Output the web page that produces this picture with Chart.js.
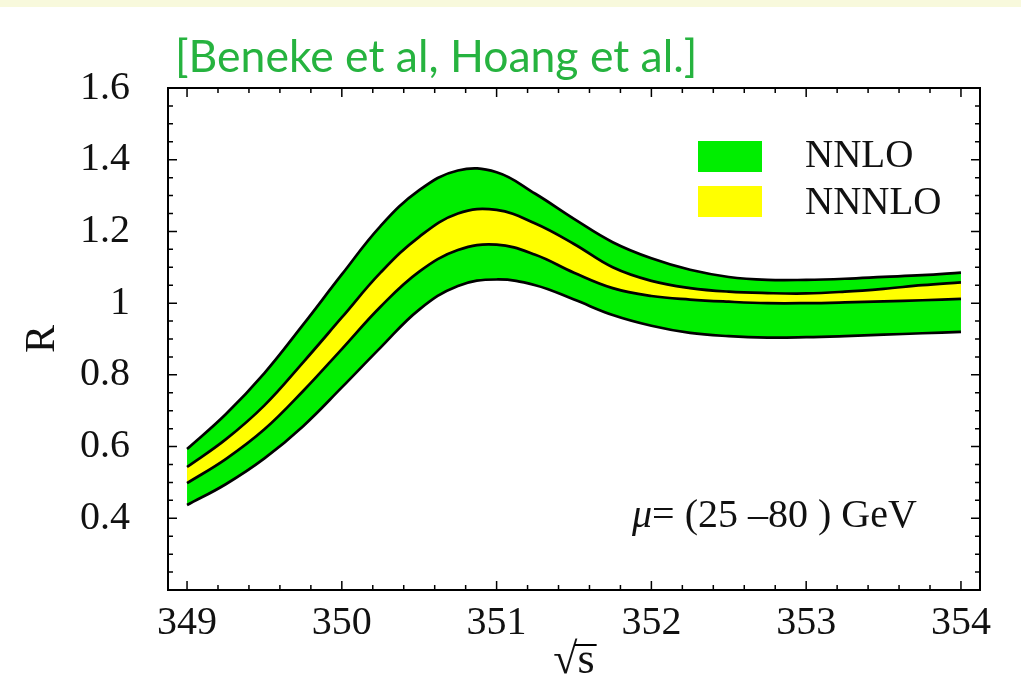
<!DOCTYPE html>
<html>
<head>
<meta charset="utf-8">
<script src="https://cdn.jsdelivr.net/npm/chart.js@4.4.0/dist/chart.umd.min.js"></script>
<style>
  html, body { margin: 0; padding: 0; background: #fff; }
  canvas { display: block; }
</style>
</head>
<body>
<canvas id="chart" width="1021" height="675"></canvas>
<script>
// sqrt(s) in GeV
const energies = [349, 349.25, 349.5, 349.75, 350, 350.25, 350.5, 350.75, 351, 351.25, 351.5,
  351.75, 352, 352.25, 352.5, 352.75, 353, 353.25, 353.5, 353.75, 354];

// band edges for R
const nnloUpper = [0.593, 0.69, 0.805, 0.94, 1.08, 1.215, 1.315, 1.37, 1.365, 1.305, 1.235,
  1.17, 1.125, 1.093, 1.073, 1.065, 1.065, 1.068, 1.073, 1.078, 1.085];
const nnnloUpper = [0.543, 0.62, 0.715, 0.835, 0.96, 1.085, 1.185, 1.25, 1.26, 1.222, 1.165,
  1.10, 1.062, 1.042, 1.032, 1.028, 1.027, 1.032, 1.04, 1.05, 1.058];
const nnnloLower = [0.498, 0.565, 0.648, 0.755, 0.872, 0.99, 1.088, 1.148, 1.163, 1.135, 1.085,
  1.042, 1.02, 1.01, 1.004, 1.0, 1.0, 1.002, 1.005, 1.008, 1.012];
const nnloLower = [0.437, 0.495, 0.567, 0.657, 0.765, 0.876, 0.982, 1.048, 1.066, 1.05, 1.01,
  0.967, 0.937, 0.917, 0.908, 0.904, 0.905, 0.908, 0.912, 0.916, 0.92];

const bandLabels = ["NNLO", "NNNLO"];
const bandColors = ["#00ee00", "#ffff00"];
const titleText = "[Beneke et al, Hoang et al.]";
const noteText = "= (25 \u201380 ) GeV";

const serif = '"Liberation Serif", "Times New Roman", serif';

const pts = (arr) => energies.map((x, i) => ({ x: x, y: arr[i] }));

const lineStyle = {
  borderColor: "#000",
  borderWidth: 2.7,
  pointRadius: 0,
  tension: 0.4,
};

// white page with the slide's cream strip on top
const backdrop = {
  id: "backdrop",
  beforeDraw(chart) {
    const ctx = chart.ctx;
    ctx.save();
    ctx.fillStyle = "#fff";
    ctx.fillRect(0, 0, chart.width, chart.height);
    ctx.fillStyle = "#f8f9dc";
    ctx.fillRect(0, 0, chart.width, 7);
    ctx.restore();
  },
};

// mathematica style frame with inward ticks on all sides
const frame = {
  id: "frame",
  afterDraw(chart) {
    const { ctx, chartArea: a, scales } = chart;
    const x = scales.x, y = scales.y;
    ctx.save();
    ctx.strokeStyle = "#000";
    ctx.lineWidth = 1.5;
    ctx.beginPath();
    for (let v = 349; v <= 354.001; v += 0.2) {
      const px = x.getPixelForValue(v);
      const len = Math.abs(v - Math.round(v)) < 0.01 ? 9 : 5;
      ctx.moveTo(px, a.bottom); ctx.lineTo(px, a.bottom - len);
      ctx.moveTo(px, a.top); ctx.lineTo(px, a.top + len);
    }
    for (let v = 0.25; v <= 1.6001; v += 0.05) {
      const py = y.getPixelForValue(v);
      const major = Math.abs(v * 5 - Math.round(v * 5)) < 0.01;
      const len = major ? 9 : 5;
      ctx.moveTo(a.left, py); ctx.lineTo(a.left + len, py);
      ctx.moveTo(a.right, py); ctx.lineTo(a.right - len, py);
    }
    ctx.stroke();
    ctx.lineWidth = 2;
    ctx.strokeRect(a.left, a.top, a.right - a.left, a.bottom - a.top);

    // bar over the s of the x title
    ctx.font = "44px " + serif;
    const full = ctx.measureText("\u221as").width;
    const sw = ctx.measureText("s").width;
    const cx = (a.left + a.right) / 2;
    const right = cx + full / 2;
    ctx.lineWidth = 2;
    ctx.beginPath();
    ctx.moveTo(right - sw - 3, 645);
    ctx.lineTo(right + 2, 645);
    ctx.stroke();
    ctx.restore();
  },
};

// legend, citation and scale note
const labels = {
  id: "labels",
  afterDraw(chart) {
    const ctx = chart.ctx;
    ctx.save();
    bandLabels.forEach((txt, i) => {
      ctx.fillStyle = bandColors[i];
      ctx.fillRect(698, 141 + i * 45, 64, 31);
      ctx.fillStyle = "#111";
      ctx.font = "39px " + serif;
      ctx.textBaseline = "alphabetic";
      ctx.fillText(txt, 805, 167 + i * 47);
    });

    ctx.font = "italic 40px " + serif;
    ctx.fillStyle = "#111";
    ctx.fillText("\u03bc", 632, 527);
    const mw = ctx.measureText("\u03bc").width;
    ctx.font = "40px " + serif;
    ctx.fillText(noteText, 632 + mw, 527);

    ctx.fillStyle = "#26b33f";
    ctx.font = "40px Lato, sans-serif";
    const w = ctx.measureText(titleText).width;
    const size = 40 * 522 / w;
    ctx.font = size.toFixed(1) + "px Lato, sans-serif";
    ctx.fillText(titleText, 175, 72);
    ctx.restore();
  },
};

new Chart(document.getElementById("chart"), {
  type: "line",
  data: {
    datasets: [
      { label: bandLabels[1], data: pts(nnnloUpper), fill: "+1", backgroundColor: bandColors[1], ...lineStyle },
      { label: bandLabels[1], data: pts(nnnloLower), fill: false, ...lineStyle },
      { label: bandLabels[0], data: pts(nnloUpper), fill: "+1", backgroundColor: bandColors[0], ...lineStyle },
      { label: bandLabels[0], data: pts(nnloLower), fill: false, ...lineStyle },
    ],
  },
  options: {
    responsive: false,
    animation: false,
    events: [],
    layout: { padding: { top: 88, right: 41, left: 0, bottom: 0 } },
    plugins: {
      legend: { display: false },
      tooltip: { enabled: false },
      filler: { drawTime: "beforeDatasetsDraw" },
    },
    scales: {
      x: {
        type: "linear",
        min: 348.877,
        max: 354.123,
        afterFit: (s) => { s.height = 85; },
        grid: { display: false, drawTicks: false },
        border: { display: false },
        ticks: {
          stepSize: 1,
          includeBounds: false,
          padding: 9,
          maxRotation: 0,
          color: "#111",
          font: { family: serif, size: 40 },
        },
        title: {
          display: true,
          text: "\u221as",
          color: "#111",
          font: { family: serif, size: 44, lineHeight: 0.6 },
          padding: 0,
        },
      },
      y: {
        min: 0.2,
        max: 1.6,
        afterFit: (s) => { s.width = 168; },
        grid: { display: false, drawTicks: false },
        border: { display: false },
        ticks: {
          stepSize: 0.2,
          padding: 38,
          color: "#111",
          font: { family: serif, size: 40 },
          callback: (v) => (v < 0.3 ? "" : String(parseFloat(v.toFixed(2)))),
        },
        title: {
          display: true,
          text: "R",
          color: "#111",
          font: { family: serif, size: 42 },
          padding: { top: 18 },
        },
      },
    },
  },
  plugins: [backdrop, frame, labels],
});
</script>
</body>
</html>
